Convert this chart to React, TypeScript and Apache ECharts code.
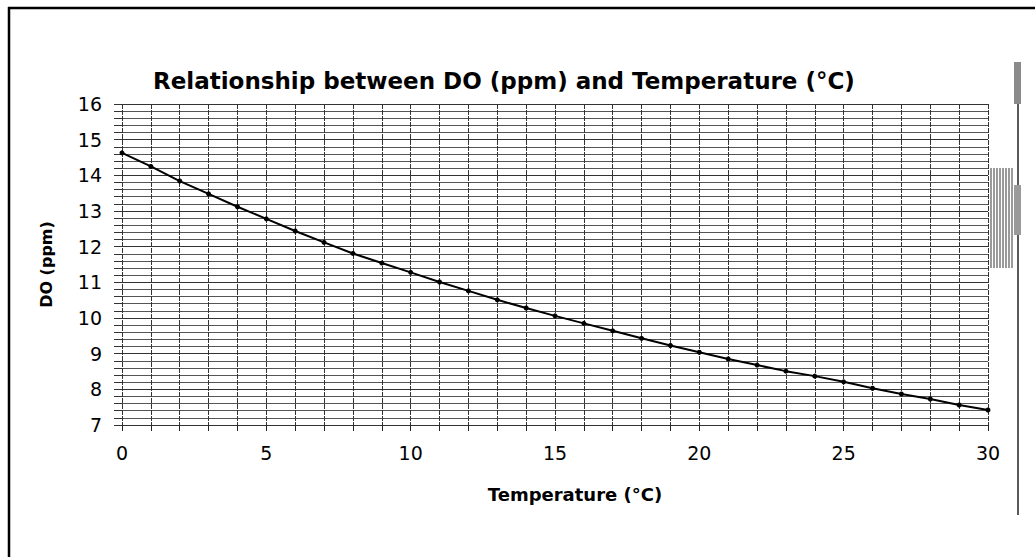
import React, { useEffect, useRef } from "react";
import * as echarts from "echarts";

const titleText = "Relationship between DO (ppm) and Temperature (°C)";
const xAxisTitle = "Temperature (°C)";
const yAxisTitle = "DO (ppm)";

const temperatures = [0, 1, 2, 3, 4, 5, 6, 7, 8, 9, 10, 11, 12, 13, 14, 15, 16, 17, 18, 19, 20, 21, 22, 23, 24, 25, 26, 27, 28, 29, 30];
const doValues = [14.63, 14.25, 13.84, 13.48, 13.12, 12.78, 12.44, 12.12, 11.81, 11.54, 11.28, 11.01, 10.76, 10.51, 10.28, 10.06, 9.85, 9.64, 9.43, 9.23, 9.04, 8.85, 8.68, 8.51, 8.37, 8.21, 8.03, 7.87, 7.73, 7.56, 7.42];

const xMin = 0;
const xMax = 30;
const yMin = 7;
const yMax = 16;

export default function App() {
  const ref = useRef<HTMLDivElement>(null);

  useEffect(() => {
    if (!ref.current) return;
    const chart = echarts.init(ref.current, null, { renderer: "svg" });

    const stripes: any[] = [];
    for (let i = 0; i < 8; i++) {
      stripes.push({
        type: "line",
        shape: { x1: 991 + i * 3, y1: 168, x2: 991 + i * 3, y2: 268 },
        style: { stroke: "#9a9a9a", lineWidth: 2 },
        silent: true,
      });
    }

    const option: any = {
      animation: false,
      backgroundColor: "#ffffff",
      title: {
        text: titleText,
        left: 148,
        top: 64,
        textStyle: {
          fontFamily: "DejaVu Sans",
          fontWeight: "bold",
          fontSize: 23,
          color: "#000",
        },
      },
      grid: { left: 122, right: 47, top: 104, bottom: 132, containLabel: false },
      xAxis: {
        type: "value",
        min: xMin,
        max: xMax,
        interval: 1,
        name: xAxisTitle,
        nameLocation: "middle",
        nameGap: 60,
        nameTextStyle: {
          fontFamily: "DejaVu Sans",
          fontWeight: "bold",
          fontSize: 18,
          color: "#000",
          padding: [0, 0, 0, 40],
        },
        axisLine: { show: false },
        axisTick: { show: true, length: 6, lineStyle: { color: "#222", width: 1 } },
        axisLabel: {
          margin: 18,
          fontFamily: "DejaVu Sans",
          fontSize: 19,
          color: "#000",
          formatter: (v: number) => (v % 5 === 0 ? String(v) : ""),
        },
        splitLine: {
          show: true,
          lineStyle: { color: "#333", width: 1, type: [5, 1] },
        },
      },
      yAxis: {
        type: "value",
        min: yMin,
        max: yMax,
        interval: 1,
        name: yAxisTitle,
        nameLocation: "middle",
        nameGap: 68,
        nameTextStyle: {
          fontFamily: "DejaVu Sans",
          fontWeight: "bold",
          fontSize: 16,
          color: "#000",
        },
        axisLine: { show: false },
        axisTick: { show: true, length: 8, lineStyle: { color: "#333", width: 1 } },
        minorTick: { show: true, splitNumber: 5, length: 8, lineStyle: { color: "#333", width: 1 } },
        axisLabel: {
          margin: 20,
          fontFamily: "DejaVu Sans",
          fontSize: 19,
          color: "#000",
        },
        splitLine: { show: true, lineStyle: { color: "#333", width: 1 } },
        minorSplitLine: { show: true, lineStyle: { color: "#555", width: 1 } },
      },
      series: [
        {
          type: "line",
          data: temperatures.map((t, i) => [t, doValues[i]]),
          symbol: "circle",
          symbolSize: 5,
          showSymbol: true,
          lineStyle: { color: "#000", width: 2 },
          itemStyle: { color: "#000" },
          z: 5,
        },
      ],
      graphic: [
        {
          type: "line",
          shape: { x1: 8, y1: 8, x2: 1035, y2: 8 },
          style: { stroke: "#000", lineWidth: 2.5 },
          silent: true,
        },
        {
          type: "line",
          shape: { x1: 9, y1: 7, x2: 9, y2: 557 },
          style: { stroke: "#000", lineWidth: 2.5 },
          silent: true,
        },
        {
          type: "line",
          shape: { x1: 1018, y1: 62, x2: 1018, y2: 515 },
          style: { stroke: "#222", lineWidth: 1.5 },
          silent: true,
        },
        {
          type: "rect",
          shape: { x: 1014, y: 62, width: 7, height: 42 },
          style: { fill: "#8a8a8a" },
          silent: true,
        },
        {
          type: "rect",
          shape: { x: 1014, y: 185, width: 7, height: 50 },
          style: { fill: "#9a9a9a" },
          silent: true,
        },
        ...stripes,
      ],
    };

    chart.setOption(option);
    return () => chart.dispose();
  }, []);

  return (
    <div
      ref={ref}
      style={{ position: "absolute", left: 0, top: 0, width: 1035, height: 557, background: "#fff" }}
    />
  );
}
